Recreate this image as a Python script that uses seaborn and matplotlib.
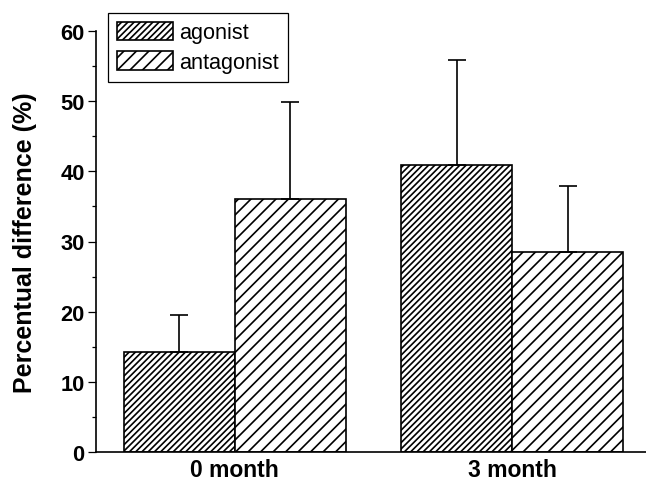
import matplotlib
matplotlib.use("Agg")
import matplotlib.pyplot as plt
from matplotlib.ticker import MultipleLocator
import seaborn as sb
import pandas as pd

# values
months = ["0 month", "3 month"]
groups = ["agonist", "antagonist"]
agonist_mean = [14.2, 40.9]
agonist_sd = [5.3, 15.0]
antagonist_mean = [36.0, 28.5]
antagonist_sd = [13.9, 9.4]
yticks = [0, 10, 20, 30, 40, 50, 60]

df = pd.DataFrame({
    "month": months * 2,
    "group": [groups[0]] * 2 + [groups[1]] * 2,
    "value": agonist_mean + antagonist_mean,
    "sd": agonist_sd + antagonist_sd,
})

sb.set_style("ticks")
plt.rcParams["font.family"] = ["Liberation Sans", "DejaVu Sans"]
plt.rcParams["hatch.linewidth"] = 0.8
plt.rcParams["hatch.color"] = "black"
for k in ["text.color", "axes.labelcolor", "xtick.color", "ytick.color"]:
    plt.rcParams[k] = "black"

fig = plt.figure(figsize=(646 / 150, 492 / 150), dpi=150)
ax = fig.add_axes([96 / 646, 39 / 492, 1 - 96 / 646, 421 / 492])

sb.barplot(data=df, x="month", y="value", hue="group", order=months,
           hue_order=groups, palette=["white", "white"], edgecolor="black",
           linewidth=0.8, width=0.8, errorbar=None, saturation=1,
           legend=False, ax=ax)

# dense hatch for agonist, wider for antagonist
hatches = ["////////", "////"]
for cont, h in zip(ax.containers, hatches):
    for p in cont:
        p.set_hatch(h)
        p.set_edgecolor("black")

# upward-only error bars
for cont, g in zip(ax.containers, groups):
    sub = df[df["group"] == g].set_index("month").loc[months]
    xs = [p.get_x() + p.get_width() / 2 for p in cont]
    ax.errorbar(xs, sub["value"], yerr=[[0] * len(xs), sub["sd"]], fmt="none",
                ecolor="black", elinewidth=0.8, capsize=4.2, capthick=0.8,
                zorder=5)

ax.set_ylim(0, 60)
ax.set_xlim(-0.5, 1.482)
ax.set_yticks(yticks)
ax.yaxis.set_minor_locator(MultipleLocator(5))
ax.tick_params(axis="y", which="major", length=4, width=0.6, direction="out",
               pad=1.5, labelsize=10.5)
ax.tick_params(axis="y", which="minor", length=2, width=0.6, direction="out")
ax.tick_params(axis="x", length=0, pad=3, labelsize=11)
for lab in ax.get_xticklabels() + ax.get_yticklabels():
    lab.set_fontweight("bold")

ax.set_xlabel("")
ax.set_ylabel("Percentual difference (%)", fontsize=12, fontweight="bold")
ax.yaxis.set_label_coords(-0.107, 0.5)

sb.despine(ax=ax)
for s in ["left", "bottom"]:
    ax.spines[s].set_linewidth(0.8)
    ax.spines[s].set_color("black")

leg = ax.legend([ax.containers[0], ax.containers[1]], groups,
                loc="upper left", bbox_to_anchor=(108 / 646, 1 - 14 / 492),
                bbox_transform=fig.transFigure, borderaxespad=0,
                fontsize=10.4, frameon=True, fancybox=False,
                edgecolor="black", framealpha=1, handlelength=2.6,
                handleheight=0.95, handletextpad=0.3, borderpad=0.4,
                labelspacing=0.35)
leg.get_frame().set_linewidth(0.6)

plt.savefig("out.png", dpi=150)
